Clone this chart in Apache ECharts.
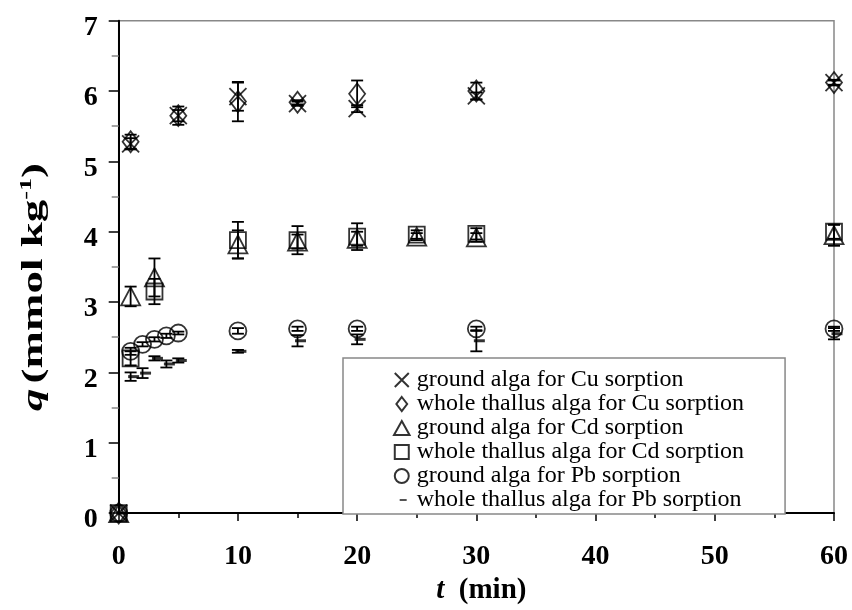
<!DOCTYPE html>
<html><head><meta charset="utf-8">
<script src="https://cdn.jsdelivr.net/npm/echarts@6/dist/echarts.min.js"></script>
<style>html,body{margin:0;padding:0;background:#fff}#c{width:852px;height:610px}</style>
</head><body><div id="c"></div>
<script>
// ---- data (t in min, q in mmol/kg, err = half error bar) ----
const tCu = [0, 1, 5, 10, 15, 20, 30, 60];
const groundCu    = [0, 5.25, 5.65, 5.92, 5.82, 5.75, 5.93, 6.12];
const groundCuErr = [0, 0.08, 0.08, 0.20, 0.03, 0.05, 0.05, 0.04];
const wholeCu     = [0, 5.28, 5.65, 5.85, 5.84, 5.96, 6.00, 6.12];
const wholeCuErr  = [0, 0.10, 0.13, 0.28, 0.03, 0.19, 0.12, 0.03];

const tCd = [0, 1, 3, 10, 15, 20, 25, 30, 60];
const groundCd    = [0, 3.08, 3.35, 3.82, 3.86, 3.90, 3.93, 3.92, 3.95];
const groundCdErr = [0, 0.14, 0.27, 0.20, 0.10, 0.10, 0.05, 0.06, 0.15];
const wholeCd     = [0, 2.20, 3.15, 3.88, 3.88, 3.93, 3.96, 3.97, 4.00];
const wholeCdErr  = [0, 0.10, 0.18, 0.26, 0.20, 0.19, 0.06, 0.08, 0.10];

const tPb = [0, 1, 2, 3, 4, 5, 10, 15, 20, 30, 60];
const groundPb    = [0, 2.30, 2.40, 2.47, 2.52, 2.56, 2.59, 2.62, 2.62, 2.62, 2.62];
const groundPbErr = [0, 0.05, 0.03, 0.03, 0.03, 0.02, 0.04, 0.03, 0.03, 0.03, 0.03];
const wholePb     = [0, 1.94, 1.99, 2.20, 2.12, 2.17, 2.30, 2.45, 2.47, 2.45, 2.55];
const wholePbErr  = [0, 0.06, 0.07, 0.03, 0.05, 0.03, 0.02, 0.08, 0.07, 0.15, 0.08];

const names = [
  'ground alga for Cu sorption',
  'whole thallus alga for Cu sorption',
  'ground alga for Cd sorption',
  'whole thallus alga for Cd sorption',
  'ground alga for Pb sorption',
  'whole thallus alga for Pb sorption'
];
const xTicks = [0, 10, 20, 30, 40, 50, 60];
const yTicks = [0, 1, 2, 3, 4, 5, 6, 7];
const yTitle = '{i|q} {b|(mmol kg}{s|-1}{b|)}';
const xTitle = '{i|t}{b|  (min)}';

// ---- chart ----
const FONT = '"Liberation Serif", "Times New Roman", serif';
const chart = echarts.init(document.getElementById('c'), null, {renderer: 'canvas'});
const hollow = {color: 'rgba(0,0,0,0)', borderColor: '#000', borderWidth: 1.8};
const pts = (t, v) => t.map((x, i) => [x, v[i]]);
const ptsE = (t, v, e) => t.map((x, i) => [x, v[i], e[i]]);

function renderErr(params, api) {
  const x = api.value(0), y = api.value(1), e = api.value(2);
  if (!e) return null;
  const hi = api.coord([x, y + e]), lo = api.coord([x, y - e]);
  const w = 6, st = {stroke: '#000', lineWidth: 1.8};
  return {type: 'group', children: [
    {type: 'line', shape: {x1: hi[0], y1: hi[1], x2: lo[0], y2: lo[1]}, style: st},
    {type: 'line', shape: {x1: hi[0] - w, y1: hi[1], x2: hi[0] + w, y2: hi[1]}, style: st},
    {type: 'line', shape: {x1: lo[0] - w, y1: lo[1], x2: lo[0] + w, y2: lo[1]}, style: st}
  ]};
}
const errSeries = (t, v, e) => ({type: 'custom', data: ptsE(t, v, e), renderItem: renderErr,
  clip: false, silent: true, z: 2, encode: {x: 0, y: 1}});

const CROSS = 'path://M0,0L10,10M0,10L10,0';
const icons = [
  CROSS,
  'path://M5,0L10,6.5L5,13L0,6.5Z',
  'path://M5,0L10,9L0,9Z',
  'path://M0,0H10V10H0Z',
  'path://M10,5A5,5,0,1,1,0,5A5,5,0,1,1,10,5Z',
  'path://M0,0M10,10M3.5,4.4H8.5V5.6H3.5Z'
];
const mkRich = (fs) => ({
  i: {fontFamily: FONT, fontSize: fs, fontWeight: 'bold', fontStyle: 'italic', fill: '#000', color: '#000', lineHeight: fs + 4},
  b: {fontFamily: FONT, fontSize: fs, fontWeight: 'bold', fill: '#000', color: '#000', lineHeight: fs + 4},
  s: {fontFamily: FONT, fontSize: Math.round(fs * 0.6), fontWeight: 'bold', fill: '#000', color: '#000', verticalAlign: 'top', lineHeight: fs + 4}
});

const option = {
  backgroundColor: '#fff',
  animation: false,
  grid: {left: 118.7, right: 18, top: 20.7, bottom: 91, show: true,
         borderColor: '#888', borderWidth: 1.5, backgroundColor: 'rgba(0,0,0,0)'},
  graphic: [{
    type: 'text', x: 35, y: 287, rotation: Math.PI / 2, scaleX: 1.55, silent: true,
    style: {text: yTitle, rich: mkRich(29), align: 'center', verticalAlign: 'middle', fill: '#000'}
  }],
  xAxis: {
    type: 'value', min: xTicks[0], max: xTicks[xTicks.length - 1], interval: 10,
    name: xTitle, nameLocation: 'middle', nameGap: 60,
    nameTextStyle: {rich: mkRich(29), padding: [0, 0, 0, 10]},
    axisLine: {lineStyle: {color: '#000', width: 2}},
    axisTick: {length: 8, lineStyle: {color: '#000', width: 1.5}},
    minorTick: {show: true, splitNumber: 2, length: 5, lineStyle: {color: '#000', width: 1.5}},
    splitLine: {show: false},
    axisLabel: {margin: 30, fontFamily: FONT, fontSize: 28, fontWeight: 'bold', color: '#000'}
  },
  yAxis: {
    type: 'value', min: yTicks[0], max: yTicks[yTicks.length - 1], interval: 1,
    axisLine: {lineStyle: {color: '#000', width: 2}},
    axisTick: {length: 10, lineStyle: {color: '#000', width: 1.5}},
    minorTick: {show: true, splitNumber: 2, length: 7, lineStyle: {color: '#888', width: 1.5}},
    splitLine: {show: false},
    axisLabel: {margin: 21, fontFamily: FONT, fontSize: 28, fontWeight: 'bold', color: '#000',
                verticalAlign: 'top', lineHeight: 14}
  },
  legend: {
    orient: 'vertical', left: 343, top: 358, selectedMode: false,
    padding: [10, 41, 2, 50], itemGap: 0, itemWidth: 20, itemHeight: 14,
    borderColor: '#888', borderWidth: 1.5, backgroundColor: '#fff',
    textStyle: {fontFamily: FONT, fontSize: 24, color: '#000', lineHeight: 23.3},
    data: names.map((n, i) => ({name: n, icon: icons[i]}))
  },
  series: [
    errSeries(tCu, groundCu, groundCuErr),
    errSeries(tCu, wholeCu, wholeCuErr),
    errSeries(tCd, groundCd, groundCdErr),
    errSeries(tCd, wholeCd, wholeCdErr),
    errSeries(tPb, groundPb, groundPbErr),
    errSeries(tPb, wholePb, wholePbErr),
    {type: 'scatter', name: names[0], data: pts(tCu, groundCu), symbol: CROSS, symbolSize: 17,
     itemStyle: hollow, clip: false, z: 3},
    {type: 'scatter', name: names[1], data: pts(tCu, wholeCu), symbol: 'diamond', symbolSize: [16, 21],
     itemStyle: hollow, clip: false, z: 3},
    {type: 'scatter', name: names[2], data: pts(tCd, groundCd), symbol: 'triangle', symbolSize: [19, 18],
     itemStyle: hollow, clip: false, z: 3},
    {type: 'scatter', name: names[3], data: pts(tCd, wholeCd), symbol: 'rect', symbolSize: 16,
     itemStyle: hollow, clip: false, z: 3},
    {type: 'scatter', name: names[4], data: pts(tPb, groundPb), symbol: 'circle', symbolSize: 17,
     itemStyle: hollow, clip: false, z: 3},
    {type: 'scatter', name: names[5], data: pts(tPb, wholePb), symbol: 'rect', symbolSize: [11, 3],
     symbolOffset: [3, 0], itemStyle: {color: '#000'}, clip: false, z: 3}
  ]
};
chart.setOption(option);
</script>
</body></html>
